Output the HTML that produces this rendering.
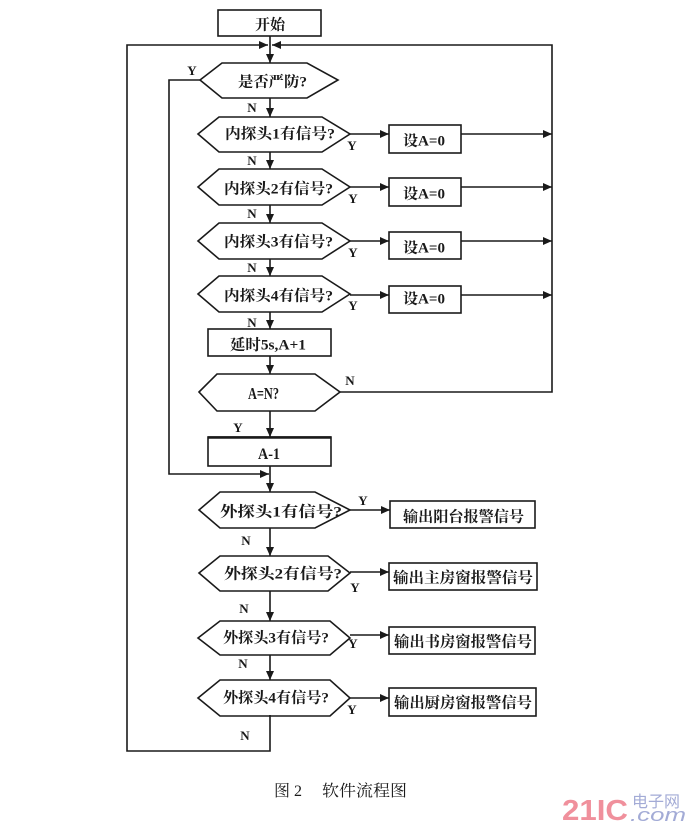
<!DOCTYPE html>
<html>
<head>
<meta charset="utf-8">
<style>
html,body{margin:0;padding:0;background:#fff;}
svg{display:block;}
.t{font-family:"Liberation Serif","Noto Serif CJK SC",serif;font-weight:bold;fill:#1a1a1a;}
.l{font-family:"Liberation Serif",serif;font-weight:bold;fill:#1a1a1a;font-size:13px;}
</style>
</head>
<body>
<svg width="700" height="840" viewBox="0 0 700 840" xmlns="http://www.w3.org/2000/svg">
<defs>
<marker id="a" markerWidth="10" markerHeight="8" refX="9" refY="4" orient="auto" markerUnits="userSpaceOnUse">
<path d="M0,0 L9,4 L0,8 Z" fill="#1a1a1a"/>
</marker>
</defs>
<g stroke="#1a1a1a" stroke-width="1.6" fill="none">
<rect x="218" y="10" width="103" height="26"/>
<line x1="270" y1="36" x2="270" y2="45"/>
<polyline points="270,715 270,751 127,751 127,45 268,45" marker-end="url(#a)"/>
<polyline points="340,392 552,392 552,45 272,45" marker-end="url(#a)"/>
<line x1="270" y1="45" x2="270" y2="63" marker-end="url(#a)"/>
<polygon points="200,80 222,63 307,63 338,80 307,98 222,98"/>
<polyline points="200,80 169,80 169,474 269,474" marker-end="url(#a)"/>
<line x1="270" y1="98" x2="270" y2="117" marker-end="url(#a)"/>

<polygon points="198,134 219,117 322,117 350,134 322,152 219,152"/>
<line x1="350" y1="134" x2="389" y2="134" marker-end="url(#a)"/>
<rect x="389" y="125" width="72" height="28"/>
<line x1="461" y1="134" x2="552" y2="134" marker-end="url(#a)"/>
<line x1="270" y1="152" x2="270" y2="169" marker-end="url(#a)"/>

<polygon points="198,187 219,169 322,169 350,187 322,205 219,205"/>
<line x1="350" y1="187" x2="389" y2="187" marker-end="url(#a)"/>
<rect x="389" y="178" width="72" height="28"/>
<line x1="461" y1="187" x2="552" y2="187" marker-end="url(#a)"/>
<line x1="270" y1="205" x2="270" y2="223" marker-end="url(#a)"/>

<polygon points="198,241 219,223 322,223 350,241 322,259 219,259"/>
<line x1="350" y1="241" x2="389" y2="241" marker-end="url(#a)"/>
<rect x="389" y="232" width="72" height="27"/>
<line x1="461" y1="241" x2="552" y2="241" marker-end="url(#a)"/>
<line x1="270" y1="259" x2="270" y2="276" marker-end="url(#a)"/>

<polygon points="198,294 219,276 322,276 350,294 322,312 219,312"/>
<line x1="350" y1="295" x2="389" y2="295" marker-end="url(#a)"/>
<rect x="389" y="286" width="72" height="27"/>
<line x1="461" y1="295" x2="552" y2="295" marker-end="url(#a)"/>
<line x1="270" y1="312" x2="270" y2="329" marker-end="url(#a)"/>

<rect x="208" y="329" width="123" height="27"/>
<line x1="270" y1="356" x2="270" y2="374" marker-end="url(#a)"/>
<polygon points="199,392 217,374 315,374 340,392 315,411 217,411"/>
<line x1="270" y1="411" x2="270" y2="437" marker-end="url(#a)"/>
<rect x="208" y="437" width="123" height="29"/>
<line x1="208" y1="437.5" x2="331" y2="437.5" stroke-width="2.5"/>
<line x1="270" y1="466" x2="270" y2="492" marker-end="url(#a)"/>

<polygon points="199,510 220,492 315,492 350,510 315,528 220,528"/>
<line x1="350" y1="510" x2="390" y2="510" marker-end="url(#a)"/>
<rect x="390" y="501" width="145" height="27"/>
<line x1="270" y1="528" x2="270" y2="556" marker-end="url(#a)"/>

<polygon points="199,573 220,556 328,556 350,573 328,591 220,591"/>
<line x1="350" y1="572" x2="389" y2="572" marker-end="url(#a)"/>
<rect x="389" y="563" width="148" height="27"/>
<line x1="270" y1="591" x2="270" y2="621" marker-end="url(#a)"/>

<polygon points="198,638 220,621 330,621 350,638 330,655 220,655"/>
<line x1="350" y1="635" x2="389" y2="635" marker-end="url(#a)"/>
<rect x="389" y="627" width="146" height="27"/>
<line x1="270" y1="655" x2="270" y2="680" marker-end="url(#a)"/>

<polygon points="198,698 220,680 330,680 350,698 330,716 220,716"/>
<line x1="350" y1="698" x2="389" y2="698" marker-end="url(#a)"/>
<rect x="389" y="688" width="147" height="28"/>
</g>

<text class="t" x="255" y="29.5" font-size="15" textLength="30" lengthAdjust="spacingAndGlyphs">开始</text>
<text class="t" x="238" y="86.5" font-size="15" textLength="69" lengthAdjust="spacingAndGlyphs">是否严防?</text>
<text class="t" x="225" y="138.5" font-size="15" textLength="110" lengthAdjust="spacingAndGlyphs">内探头1有信号?</text>
<text class="t" x="224" y="193.5" font-size="15" textLength="109" lengthAdjust="spacingAndGlyphs">内探头2有信号?</text>
<text class="t" x="224" y="246.5" font-size="15" textLength="109" lengthAdjust="spacingAndGlyphs">内探头3有信号?</text>
<text class="t" x="224" y="300.5" font-size="15" textLength="109" lengthAdjust="spacingAndGlyphs">内探头4有信号?</text>
<text class="t" x="403" y="145.5" font-size="15" textLength="42" lengthAdjust="spacingAndGlyphs">设A=0</text>
<text class="t" x="403" y="198.5" font-size="15" textLength="42" lengthAdjust="spacingAndGlyphs">设A=0</text>
<text class="t" x="403" y="252.5" font-size="15" textLength="42" lengthAdjust="spacingAndGlyphs">设A=0</text>
<text class="t" x="403" y="303.5" font-size="15" textLength="42" lengthAdjust="spacingAndGlyphs">设A=0</text>
<text class="t" x="230" y="349.5" font-size="15" textLength="76" lengthAdjust="spacingAndGlyphs">延时5s,A+1</text>
<text class="t" x="248" y="399" font-size="17" textLength="31" lengthAdjust="spacingAndGlyphs">A=N?</text>
<text class="t" x="258" y="459" font-size="16" textLength="22" lengthAdjust="spacingAndGlyphs">A-1</text>
<text class="t" x="220" y="516.5" font-size="15" textLength="122" lengthAdjust="spacingAndGlyphs">外探头1有信号?</text>
<text class="t" x="224" y="578.5" font-size="15" textLength="118" lengthAdjust="spacingAndGlyphs">外探头2有信号?</text>
<text class="t" x="223" y="642.5" font-size="15" textLength="106" lengthAdjust="spacingAndGlyphs">外探头3有信号?</text>
<text class="t" x="223" y="702.5" font-size="15" textLength="106" lengthAdjust="spacingAndGlyphs">外探头4有信号?</text>
<text class="t" x="403" y="521.5" font-size="15" textLength="121" lengthAdjust="spacingAndGlyphs">输出阳台报警信号</text>
<text class="t" x="393" y="582.5" font-size="15" textLength="140" lengthAdjust="spacingAndGlyphs">输出主房窗报警信号</text>
<text class="t" x="394" y="646.5" font-size="15" textLength="138" lengthAdjust="spacingAndGlyphs">输出书房窗报警信号</text>
<text class="t" x="394" y="707.5" font-size="15" textLength="138" lengthAdjust="spacingAndGlyphs">输出厨房窗报警信号</text>

<g class="l" text-anchor="middle">
<text x="192" y="75">Y</text>
<text x="252" y="112">N</text>
<text x="252" y="165">N</text>
<text x="252" y="218">N</text>
<text x="252" y="272">N</text>
<text x="252" y="327">N</text>
<text x="352" y="150">Y</text>
<text x="353" y="203">Y</text>
<text x="353" y="257">Y</text>
<text x="353" y="310">Y</text>
<text x="350" y="385">N</text>
<text x="238" y="432">Y</text>
<text x="363" y="505">Y</text>
<text x="246" y="545">N</text>
<text x="355" y="592">Y</text>
<text x="244" y="613">N</text>
<text x="353" y="648">Y</text>
<text x="243" y="668">N</text>
<text x="352" y="714">Y</text>
<text x="245" y="740">N</text>
</g>

<text x="274" y="796" font-family="'Liberation Serif','Noto Serif CJK SC',serif" font-size="16" fill="#1a1a1a">图</text>
<text x="294" y="796" font-family="'Liberation Serif','Noto Serif CJK SC',serif" font-size="16" fill="#1a1a1a">2</text>
<text x="322" y="796" font-family="'Liberation Serif','Noto Serif CJK SC',serif" font-size="16" fill="#1a1a1a" textLength="85" lengthAdjust="spacingAndGlyphs">软件流程图</text>

<text x="562" y="820" font-family="'Liberation Sans',sans-serif" font-weight="bold" font-size="29" fill="#f0909c" textLength="66" lengthAdjust="spacingAndGlyphs">21IC</text>
<text x="632" y="807" font-family="'Liberation Sans','Noto Sans CJK SC',sans-serif" font-size="16" fill="#a3abd6" textLength="48" lengthAdjust="spacingAndGlyphs">电子网</text>
<text x="630" y="821" font-family="'Liberation Sans',sans-serif" font-style="italic" font-size="18" fill="#a3abd6" textLength="56" lengthAdjust="spacingAndGlyphs">.com</text>
</svg>
</body>
</html>
